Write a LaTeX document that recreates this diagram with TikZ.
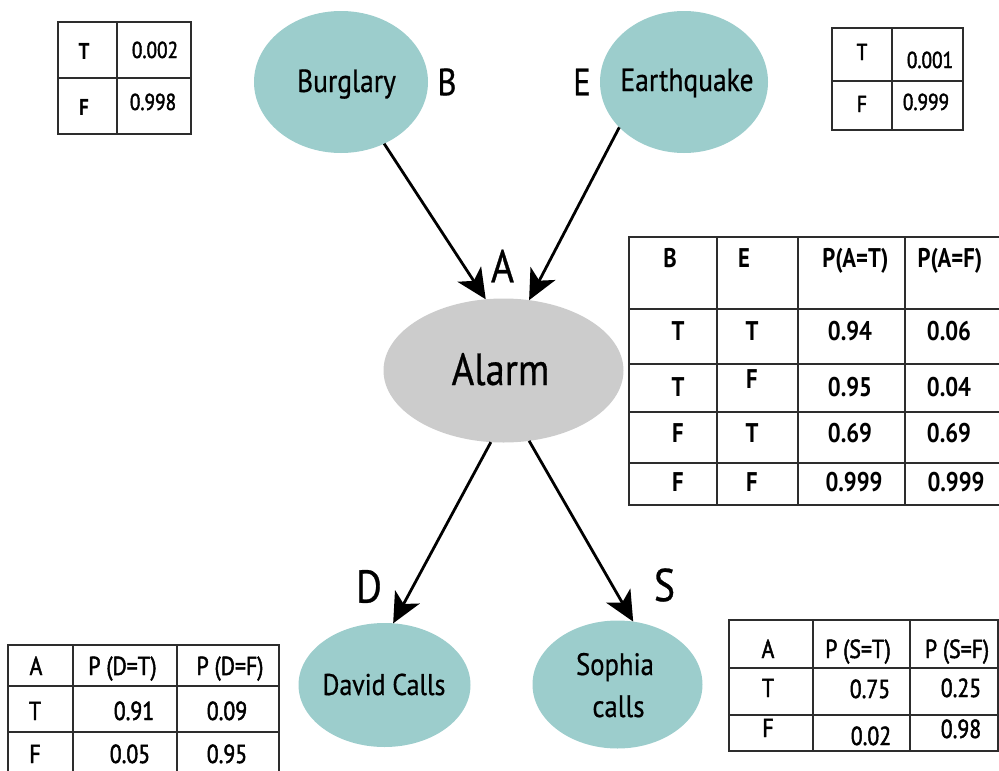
\documentclass[tikz,border=0pt]{standalone}
\usepackage{fontspec}
\setmainfont{PT Sans}
\newfontfamily\labfont[FakeStretch=0.86,FakeBold=0.6]{PT Sans}
\newfontfamily\tabfont[FakeStretch=0.84]{PT Sans}
\newfontfamily\tabmed[FakeStretch=0.84,FakeBold=1.8]{PT Sans}
\usetikzlibrary{shapes.geometric,arrows.meta}
\definecolor{tealfill}{RGB}{156,205,204}
\definecolor{grayfill}{RGB}{204,204,204}
\definecolor{gridc}{RGB}{45,45,45}
\begin{document}
\begin{tikzpicture}[x=1pt,y=-1pt,
  ell/.style={ellipse, inner sep=0pt, outer sep=0pt},
  nodetxt/.style={anchor=base, inner sep=0pt, text=black, font=\labfont\fontsize{32}{36}\selectfont},
  letter/.style={anchor=center, inner sep=0pt, font=\labfont\fontsize{38}{38}\selectfont},
  bigletter/.style={anchor=center, inner sep=0pt, font=\labfont\fontsize{46}{46}\selectfont},
  arr/.style={line width=2.8pt, -{Stealth[length=30pt,width=28pt,inset=8pt]}},
  grid/.style={draw=gridc, line width=1.6pt},
  tb/.style={anchor=base, inner sep=0pt, font=\tabmed\fontsize{26}{26}\selectfont},
  tbs/.style={anchor=base, inner sep=0pt, font=\tabmed\fontsize{23}{23}\selectfont},
  tbsb/.style={anchor=base, inner sep=0pt, font=\tabfont\bfseries\fontsize{23}{23}\selectfont},
  tbb/.style={anchor=base, inner sep=0pt, font=\tabfont\bfseries\fontsize{27}{27}\selectfont},
]
\useasboundingbox (0,0) rectangle (999,771);

% ellipses
\node[ell, fill=tealfill, minimum width=174pt, minimum height=142pt] (B) at (341,82) {};
\node[ell, fill=tealfill, minimum width=168pt, minimum height=142pt] (E) at (684,82) {};
\node[ell, fill=grayfill, minimum width=240pt, minimum height=144pt] (A) at (503.5,370.5) {};
\node[ell, fill=tealfill, minimum width=172pt, minimum height=124pt] (D) at (384.5,685) {};
\node[ell, fill=tealfill, minimum width=170pt, minimum height=128pt] (S) at (617.5,684.5) {};

% node texts
\node[nodetxt] (Bt) at (346.5,92) {Burglary};
\node[nodetxt] (Et) at (687,91) {Earthquake};
\node[nodetxt, font=\labfont\fontsize{45}{45}\selectfont] (At) at (500.5,385) {Alarm};
\node[nodetxt, font=\labfont\fontsize{30}{30}\selectfont] (Dt) at (384,695) {David Calls};
\node[nodetxt, font=\labfont\fontsize{31}{31}\selectfont] (St1) at (615,675) {Sophia};
\node[nodetxt, font=\labfont\fontsize{31}{31}\selectfont] (St2) at (618.5,717) {calls};

% letters
\node[letter] (Bl) at (447,82) {B};
\node[letter] (El) at (582,82) {E};
\node[bigletter] (Al) at (502.5,266) {A};
\node[bigletter] (Dl) at (369,586.5) {D};
\node[bigletter] (Sl) at (664.5,585) {S};

% arrows
\draw[arr] (B.-55) -- (A.104.5);
\draw[arr] (E.215.7) -- (A.70.4);
\draw[arr] (A.260) -- (D.82.5);
\draw[arr] (A.-70) -- (S.76.5);

% table P(B)
\draw[grid] (58,22) rectangle (191,134);
\draw[grid] (117,22) -- (117,134);
\draw[grid] (58,78) -- (191,78);
\node[tbsb] (pb1) at (84,59) {T};
\node[tbs] (pb2) at (155,58) {0.002};
\node[tbsb] (pb3) at (84,115) {F};
\node[tbs] (pb4) at (153,110) {0.998};

% table P(E)
\draw[grid] (832,28) rectangle (963,130);
\draw[grid] (892,28) -- (892,130);
\draw[grid] (832,81) -- (963,81);
\node[tbs] (pe1) at (862,60) {T};
\node[tbs] (pe2) at (930,68) {0.001};
\node[tbs] (pe3) at (862,112) {F};
\node[tbs] (pe4) at (926,110) {0.999};

% table P(A|B,E)
\draw[grid] (629,237) rectangle (1000,505);
\foreach \xx in {717,798,905} \draw[grid] (\xx,237) -- (\xx,505);
\foreach \yy in {309,364,412,463} \draw[grid] (629,\yy) -- (1000,\yy);
\node[tbb] (pa1) at (670,267) {B};
\node[tbb] (pa2) at (744,267) {E};
\node[tbb] (pa3) at (855.5,267) {P(A=T)};
\node[tbb] (pa4) at (950,267) {P(A=F)};
\node[tbb] (pa5) at (678,340.7) {T};
\node[tbb] (pa6) at (752,340.7) {T};
\node[tbb] (pa7) at (850,340.7) {0.94};
\node[tbb] (pa8) at (949,340.7) {0.06};
\node[tbb] (pa9) at (678,396.7) {T};
\node[tbb] (pa10) at (752,388) {F};
\node[tbb] (pa11) at (850,396.7) {0.95};
\node[tbb] (pa12) at (949,396.7) {0.04};
\node[tbb] (pa13) at (678,442.7) {F};
\node[tbb] (pa14) at (752,442.7) {T};
\node[tbb] (pa15) at (850,442.7) {0.69};
\node[tbb] (pa16) at (949,442.7) {0.69};
\node[tbb] (pa17) at (678,491.7) {F};
\node[tbb] (pa18) at (752,491.7) {F};
\node[tbb] (pa19) at (854,491.7) {0.999};
\node[tbb] (pa20) at (956,491.7) {0.999};

% table P(D|A)
\draw[grid] (8,780) -- (8,645) -- (279,645) -- (279,780);
\foreach \xx in {73,177} \draw[grid] (\xx,645) -- (\xx,780);
\foreach \yy in {686,732} \draw[grid] (8,\yy) -- (279,\yy);
\node[tb] (pd1) at (36,675) {A};
\node[tb] (pd2) at (122.5,675) {P (D=T)};
\node[tb] (pd3) at (230,675) {P (D=F)};
\node[tb] (pd4) at (35,720) {T};
\node[tb] (pd5) at (134,720) {0.91};
\node[tb] (pd6) at (227,720) {0.09};
\node[tb] (pd7) at (35,763) {F};
\node[tb] (pd8) at (130,763) {0.05};
\node[tb] (pd9) at (227,763) {0.95};

% table P(S|A)
\draw[grid] (729,620) rectangle (998,751);
\foreach \xx in {813,910} \draw[grid] (\xx,620) -- (\xx,751);
\foreach \yy in {668,715} \draw[grid] (729,\yy) -- (998,\yy);
\node[tb] (ps1) at (768,658) {A};
\node[tb] (ps2) at (858,658) {P (S=T)};
\node[tb] (ps3) at (957,658) {P (S=F)};
\node[tb] (ps4) at (768,697) {T};
\node[tb] (ps5) at (870,698) {0.75};
\node[tb] (ps6) at (961,697) {0.25};
\node[tb] (ps7) at (768,737) {F};
\node[tb] (ps8) at (871,745) {0.02};
\node[tb] (ps9) at (961,738) {0.98};
\end{tikzpicture}
\end{document}
